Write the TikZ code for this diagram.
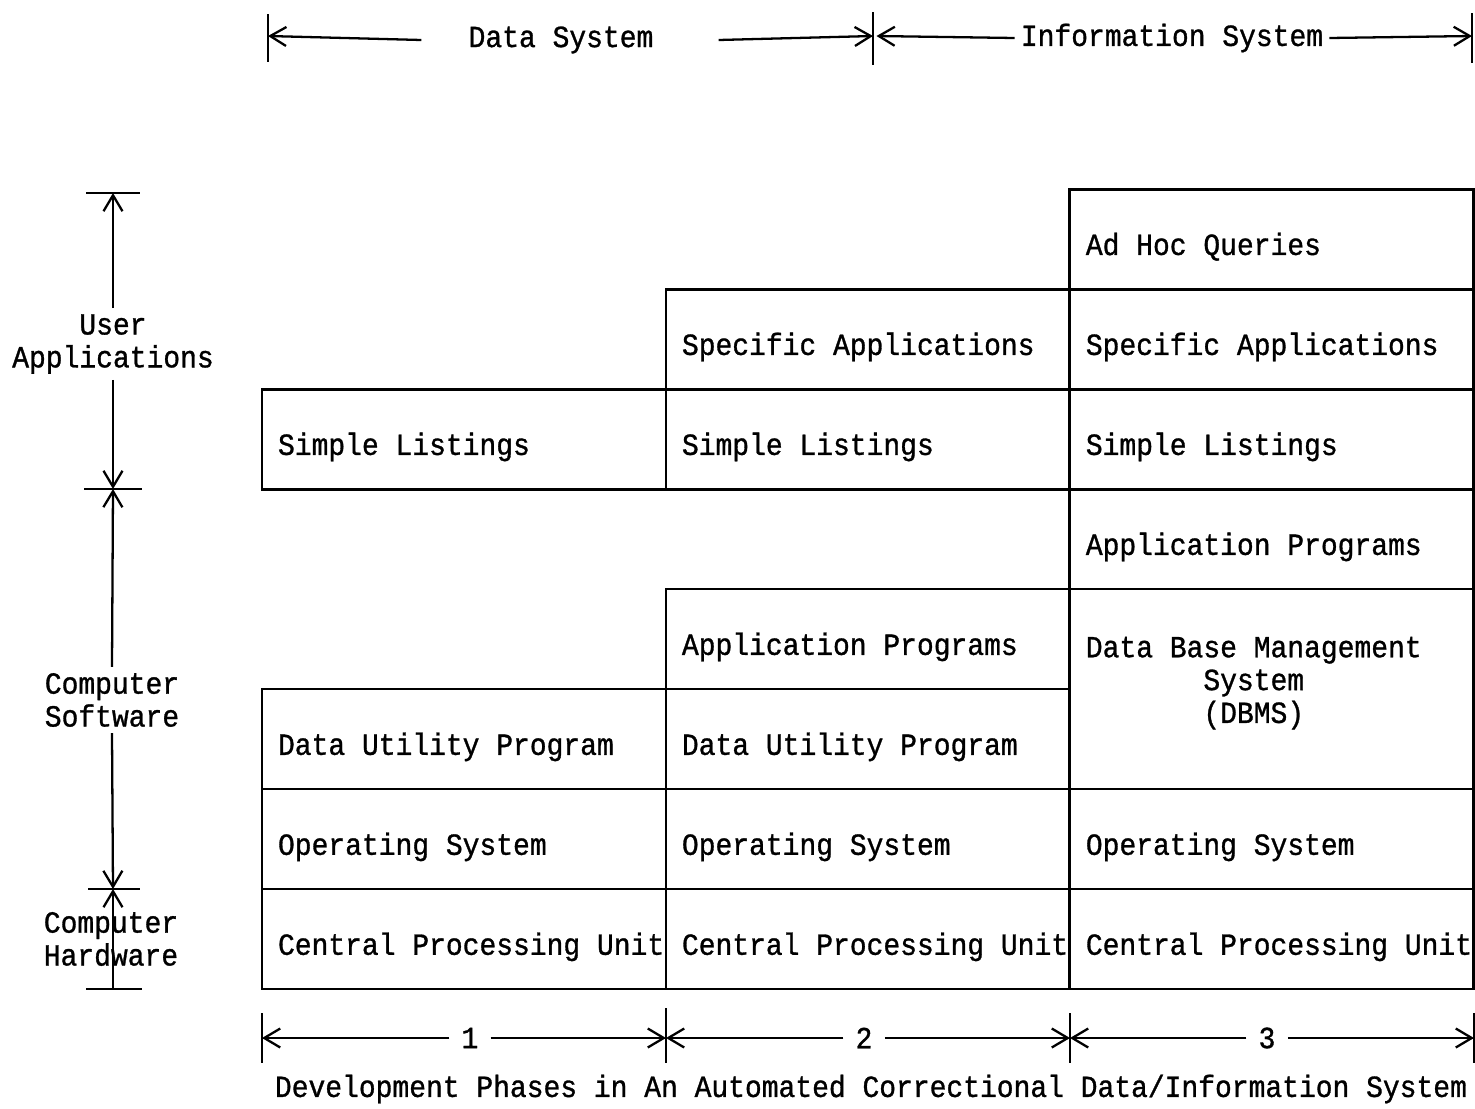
\documentclass[tikz,border=0pt]{standalone}
\usepackage{fontspec}
\newfontfamily\typewriter[FakeStretch=0.91, FakeBold=1]{Liberation Mono}
\usetikzlibrary{positioning,arrows.meta}

\begin{document}
\begin{tikzpicture}[x=0.02cm, y=-0.02cm,
    font=\typewriter\fontsize{17.5}{18.7}\selectfont,
    layer/.style={rectangle, draw, line width=1.6pt, minimum width=8.08cm, minimum height=2cm, inner sep=0pt, outer sep=0pt,
        text height=18pt, text depth=0pt,
        execute at begin node={\hbox to 8.08cm\bgroup\hskip0.32cm}, execute at end node={\hss\egroup}},
    dim/.style={line width=1.3pt, -{Straight Barb[length=0.32cm, width=0.38cm]}},
    tick/.style={line width=1.3pt},
    phase/.style={inner xsep=0.24cm}]
    \useasboundingbox (0,0) rectangle (1475,1109);

    % phase 1
    \node[layer] (cpuA) at (464,939) {Central Processing Unit};
    \node[layer, above=0pt of cpuA] (osA) {Operating System};
    \node[layer, above=0pt of osA] (utilA) {Data Utility Program};
    \node[layer, above=4cm of utilA] (listA) {Simple Listings};

    % phase 2
    \node[layer, right=0pt of cpuA] (cpuB) {Central Processing Unit};
    \node[layer, above=0pt of cpuB] (osB) {Operating System};
    \node[layer, above=0pt of osB] (utilB) {Data Utility Program};
    \node[layer, above=0pt of utilB] (progB) {Application Programs};
    \node[layer, above=2cm of progB] (listB) {Simple Listings};
    \node[layer, above=0pt of listB] (specB) {Specific Applications};

    % phase 3
    \node[layer, right=0pt of cpuB] (cpuC) {Central Processing Unit};
    \node[layer, above=0pt of cpuC] (osC) {Operating System};
    \node[layer, above=0pt of osC, minimum height=4cm, text height=0pt, text depth=36.2pt] (dbmsC) {\begin{tabular}[t]{@{}c@{}}Data Base Management\\System\\(DBMS)\end{tabular}};
    \node[layer, above=0pt of dbmsC] (progC) {Application Programs};
    \node[layer, above=0pt of progC] (listC) {Simple Listings};
    \node[layer, above=0pt of listC] (specC) {Specific Applications};
    \node[layer, above=0pt of specC] (adhocC) {Ad Hoc Queries};

    % left scale
    \coordinate (uaTop) at (113,193);
    \coordinate (uaBot) at (113,489);
    \coordinate (swBot) at (113,889);
    \coordinate (hwBot) at (113,989);
    \draw[tick] (86,193) -- (140,193);
    \draw[tick] (84,489) -- (142,489);
    \draw[tick] (88,889) -- (140,889);
    \draw[tick] (86,989) -- (142,989);
    \node[align=center] (ua) at (113,344) {User\\Applications};
    \node[align=center] (sw) at (112,700) {Computer\\Software};
    \node[align=center] (hw) at (111,939) {Computer\\Hardware};
    \draw[dim] (ua.north) -- (uaTop);
    \draw[dim] (ua.south) -- (uaBot);
    \draw[dim] (sw.north) -- (uaBot);
    \draw[dim] (sw.south) -- (swBot);
    \draw[dim, {Straight Barb[length=0.32cm, width=0.38cm]}-] (swBot) -- (hwBot);

    % top scale
    \coordinate (dsL) at (268,36);
    \coordinate (dsR) at (873,36);
    \coordinate (isR) at (1472,36);
    \draw[tick] (268,14) -- (268,62);
    \draw[tick] (873,12) -- (873,65);
    \draw[tick] (1472,13) -- (1472,63);
    \node (ds) at (561,40) {Data System};
    \node (is) at (1172,38) {Information System};
    \draw[dim] ([xshift=-0.82cm]ds.west) -- (dsL);
    \draw[dim] ([xshift=1.18cm]ds.east) -- (dsR);
    \draw[dim] (is.west) -- ([xshift=2pt]dsR);
    \draw[dim] (is.east) -- (isR);

    % bottom scale
    \coordinate (ph0) at (262,1038);
    \coordinate (ph1) at (666,1038);
    \coordinate (ph2) at (1070,1038);
    \coordinate (ph3) at (1474,1038);
    \draw[tick] (262,1013) -- (262,1063);
    \draw[tick] (666,1008) -- (666,1063);
    \draw[tick] (1070,1013) -- (1070,1063);
    \draw[tick] (1474,1013) -- (1474,1063);
    \node[phase] (p1) at (470,1038) {1};
    \node[phase] (p2) at (864,1038) {2};
    \node[phase] (p3) at (1267,1038) {3};
    \draw[dim] (p1.west) -- (ph0);
    \draw[dim] (p1.east) -- (ph1);
    \draw[dim] (p2.west) -- (ph1);
    \draw[dim] (p2.east) -- (ph2);
    \draw[dim] (p3.west) -- (ph2);
    \draw[dim] (p3.east) -- (ph3);
    \node (cap) at (871,1089) {Development Phases in An Automated Correctional Data/Information System};
\end{tikzpicture}
\end{document}
